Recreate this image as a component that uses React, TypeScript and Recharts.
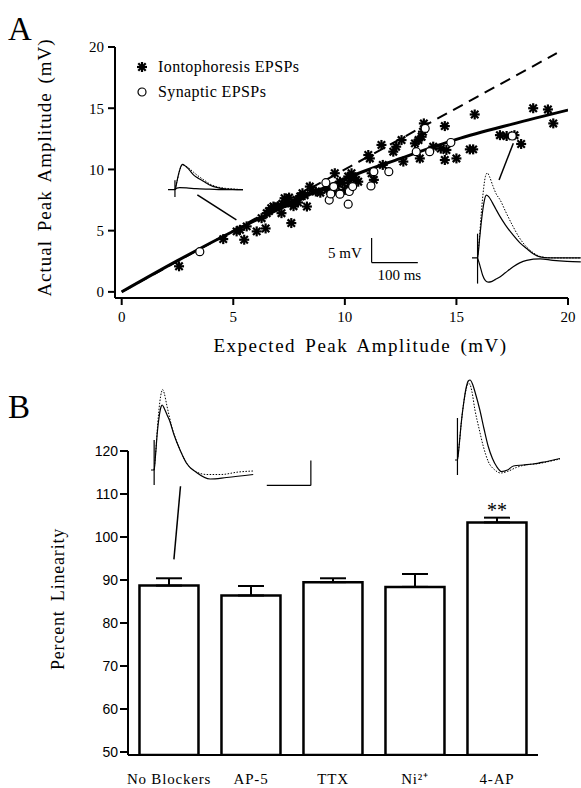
import {
  ComposedChart,
  BarChart,
  LineChart,
  Bar,
  Line,
  Scatter,
  XAxis,
  YAxis,
  ErrorBar,
  ReferenceLine,
  ReferenceDot,
  Legend,
} from 'recharts'

const SERIF = '"Liberation Serif", "Times New Roman", serif'
const SANS = '"Liberation Sans", Arial, sans-serif'

// ---------- panel A: expected vs actual peak amplitude (mV) ----------
const iontoExpected = [
  2.57, 4.55, 5.15, 5.3, 5.49, 5.6, 6.05, 6.27, 6.45, 6.5, 6.6, 6.7, 6.8, 7.0, 7.16, 7.2, 7.3, 7.4, 7.5, 7.6, 7.6,
  7.7, 7.84, 7.9, 8.0, 8.1, 8.2, 8.3, 8.43, 8.5, 8.7, 8.9, 9.2, 9.3, 9.48, 9.55, 9.63, 9.78, 9.9, 10.0, 10.15,
  10.2, 10.3, 10.4, 10.5, 10.6, 11.05, 11.12, 11.2, 11.3, 11.64, 11.7, 12.17, 12.3, 12.54, 12.62, 13.14, 13.3,
  13.36, 13.44, 13.5, 13.54, 13.96, 14.3, 14.48, 14.48, 14.55, 15.0, 15.6, 15.75, 15.82, 16.95, 17.25, 17.6,
  17.9, 18.44, 19.1, 19.34,
]
const iontoActual = [
  2.09, 4.31, 4.94, 5.07, 4.26, 5.35, 4.94, 6.02, 5.18, 6.43, 6.6, 6.84, 6.97, 7.0, 6.43, 7.2, 7.65, 7.3, 7.7, 5.62,
  7.24, 7.0, 7.52, 7.3, 7.79, 8.06, 7.9, 6.97, 8.6, 8.3, 8.2, 8.1, 8.33, 8.5, 8.2, 9.69, 8.6, 9.0, 8.9, 8.33, 9.42,
  8.87, 9.69, 9.3, 9.15, 9.0, 11.18, 10.9, 9.69, 9.15, 12.0, 10.37, 11.45, 11.86, 12.4, 10.64, 12.13, 12.4,
  10.9, 12.67, 13.08, 13.76, 11.86, 11.7, 13.54, 10.77, 11.59, 10.9, 11.64, 11.64, 14.49, 12.8, 12.73, 12.8,
  12.08, 15.0, 14.9, 13.76,
]
const synExpected = [3.5, 9.15, 9.3, 9.37, 9.5, 9.78, 10.15, 10.2, 10.35, 11.17, 11.3, 11.97, 13.2, 13.6, 13.8, 14.75, 17.5]
const synActual = [3.28, 8.92, 7.5, 8.0, 8.6, 7.98, 7.16, 8.2, 8.6, 8.65, 9.82, 9.82, 11.45, 13.35, 11.45, 12.2, 12.73]

const identityX = [0, 19.5]
const fitX = [0, 2.5, 5, 7.5, 10, 12.5, 15, 17.5, 20]
const fitY = [0, 2.55, 4.95, 7.15, 9.25, 10.9, 12.45, 13.7, 14.85]
const ampTicks = [0, 5, 10, 15, 20]

// annotation lines (data units): inset pointers and scale bar
const pointerSmall = [{ x: 3.39, y: 7.92 }, { x: 5.14, y: 5.88 }]
const pointerLarge = [{ x: 16.91, y: 9.14 }, { x: 17.55, y: 12.14 }]
const scaleBarA = { x0: 11.2, x1: 13.27, y0: 2.39, y1: 4.4 }

// ---------- panel B: percent linearity ----------
const conditions = ['No Blockers', 'AP-5', 'TTX', 'Ni²⁺', '4-AP']
const linearity = [88.7, 86.4, 89.5, 88.4, 103.4]
const linearitySem = [1.7, 2.2, 0.9, 3.0, 1.1]
const linTicks = [50, 60, 70, 80, 90, 100, 110, 120]
const edgeTicks = [0, 1, 2, 3, 4, 5]
const pointerB1 = [{ x: 0.512, y: 111.8 }, { x: 0.448, y: 94.8 }]
const pointerB2 = [{ x: 4.354, y: 113.8 }, { x: 4.476, y: 108.4 }]
const scaleBarB = { x0: 1.354, x1: 1.784, y0: 112.0, y1: 117.8 }

// ---------- EPSP traces (t in ms, v in mV) ----------
const a1Actual = [[0, 0], [15, 0], [18, 1.0], [21, 2.4], [25, 3.9], [29, 4.9], [32, 5.1], [36, 4.9], [42, 4.4], [47, 3.9], [55, 3.0], [62, 2.5], [69, 2.1], [80, 1.5], [91, 0.9], [105, 0.45], [119, 0.2], [140, 0.05], [163, 0]]
const a1Expected = [[15, 0], [21, 2.3], [27, 4.4], [31, 5.0], [38, 4.8], [47, 4.2], [58, 3.3], [69, 2.5], [80, 1.8], [91, 1.1], [105, 0.6], [125, 0.25], [145, 0.1], [163, 0]]
const a1Small = [[15, 0], [19, 0.3], [25, 0.4], [40, 0.35], [60, 0.2], [90, 0.1], [130, 0], [163, 0]]
const a1Artifact = [[15, -1.5], [15, 1.9]]

const a2Actual = [[0, 0], [12, 0], [16, 3.5], [21, 8], [26, 11.3], [31, 12.7], [36, 12.4], [44, 11.2], [52, 9.8], [61, 8.3], [72, 6.7], [89, 4.6], [103, 3.1], [118, 1.9], [133, 0.8], [147, 0.2], [165, 0], [235, 0]]
const a2Expected = [[12, 0], [16, 4], [20, 9], [25, 14], [29, 16.5], [33, 17.2], [38, 16.4], [45, 14.6], [52, 13.0], [61, 11.7], [72, 9.5], [89, 6.3], [103, 4.0], [118, 2.2], [133, 1.0], [147, 0.3], [165, 0.05], [190, 0], [235, 0]]
const a2Diff = [[12, 0], [17, -1.5], [23, -3.5], [29, -4.6], [35, -4.9], [42, -4.8], [50, -4.4], [61, -3.8], [72, -3.0], [89, -1.8], [103, -1.0], [118, -0.5], [147, -0.2], [175, -0.5], [205, -0.7], [235, -0.8]]
const a2Artifact = [[12, -5.2], [12, 4.9]]

const bLeftActual = [[0, 0], [9, 0], [13, 3], [18, 7.5], [24, 11], [29, 12.7], [32, 13], [38, 12.3], [46, 11], [54, 9.7], [65, 7.2], [83, 4], [102, 1.3], [130, -0.5], [169, -1.8], [216, -1.5], [292, -0.9]]
const bLeftExpected = [[9, 0], [14, 4], [19, 9], [25, 13.5], [30, 15.6], [33, 16.1], [38, 15.3], [45, 13], [52, 10.8], [60, 8.5], [70, 6.3], [82, 4.2], [95, 2.2], [110, 0.6], [130, -0.4], [160, -0.9], [200, -0.9], [250, -0.4], [292, -0.2]]
const bLeftArtifact = [[9, -3], [9, 6]]

const bRightActual = [[0, 0], [7, 0], [12, 3], [18, 7.5], [25, 11.5], [32, 14.5], [38, 15.8], [43, 16], [50, 15.2], [58, 13.4], [71, 10], [83, 6.2], [95, 2.7], [107, 0.3], [119, -1.3], [133, -2.3], [150, -2.0], [167, -1.2], [195, -1.0], [224, -0.8], [255, -0.4], [281, 0], [300, 0.3]]
const bRightExpected = [[7, 0], [12, 3], [18, 7.5], [25, 11.5], [32, 14.2], [38, 15.3], [42, 15.2], [48, 13.8], [57, 10], [69, 6.2], [81, 2.7], [95, -0.3], [114, -2.0], [130, -2.6], [150, -2.3], [175, -1.5], [200, -1.0], [240, -0.7], [281, -0.1], [300, 0.2]]
const bRightArtifact = [[7, -3], [7, 8.4]]

const toPts = (xs: number[], ys: number[]) => xs.map((x, i) => ({ x, y: ys[i] }))
const toTrace = (arr: number[][]) => arr.map(([t, v]) => ({ t, v }))

const iontoData = toPts(iontoExpected, iontoActual)
const synData = toPts(synExpected, synActual)
const identityData = toPts(identityX, identityX)
const fitData = toPts(fitX, fitY)
const barData = conditions.map((name, i) => ({ name, value: linearity[i], err: [0, linearitySem[i]] }))

const axisStroke = { stroke: '#000', strokeWidth: 2 }

function StarShape(props: any) {
  const { cx, cy } = props
  if (cx == null || cy == null) return null
  const r = 5
  const d = 3.7
  return (
    <g stroke="#000" strokeWidth={2.2}>
      <line x1={cx - r} y1={cy} x2={cx + r} y2={cy} />
      <line x1={cx} y1={cy - r} x2={cx} y2={cy + r} />
      <line x1={cx - d} y1={cy - d} x2={cx + d} y2={cy + d} />
      <line x1={cx - d} y1={cy + d} x2={cx + d} y2={cy - d} />
    </g>
  )
}

function CircleShape(props: any) {
  const { cx, cy } = props
  if (cx == null || cy == null) return null
  return <circle cx={cx} cy={cy} r={4} fill="#fff" stroke="#000" strokeWidth={1.2} />
}

function LegendBox() {
  const row = { display: 'flex', alignItems: 'center', height: 25 }
  const txt = { fontFamily: SERIF, fontSize: 16, letterSpacing: 0.4, color: '#000', marginLeft: 9 }
  return (
    <div>
      <div style={row}>
        <svg width={14} height={14}>
          <StarShape cx={7} cy={7} />
        </svg>
        <span style={txt}>Iontophoresis EPSPs</span>
      </div>
      <div style={row}>
        <svg width={14} height={14}>
          <CircleShape cx={7} cy={7} />
        </svg>
        <span style={txt}>Synaptic EPSPs</span>
      </div>
    </div>
  )
}

type TraceLine = { data: number[][]; dotted?: boolean; straight?: boolean }

function Trace(props: {
  x0: number
  y0: number
  tMax: number
  vMin: number
  vMax: number
  pxMs: number
  pxMv: number
  lines: TraceLine[]
}) {
  const { x0, y0, tMax, vMin, vMax, pxMs, pxMv, lines } = props
  return (
    <div style={{ position: 'absolute', left: x0, top: y0 - vMax * pxMv }}>
      <LineChart width={tMax * pxMs} height={(vMax - vMin) * pxMv} margin={{ top: 0, right: 0, bottom: 0, left: 0 }}>
        <XAxis type="number" dataKey="t" domain={[0, tMax]} hide />
        <YAxis type="number" domain={[vMin, vMax]} hide />
        {lines.map((l, i) => (
          <Line
            key={i}
            data={toTrace(l.data)}
            dataKey="v"
            type={l.straight ? 'linear' : 'monotone'}
            stroke="#000"
            strokeWidth={l.dotted ? 1 : 1.2}
            strokeDasharray={l.dotted ? '1.5 1.5' : undefined}
            dot={false}
            isAnimationActive={false}
          />
        ))}
      </LineChart>
    </div>
  )
}

const panelLetter = (top: number) => ({
  position: 'absolute' as const,
  left: 8,
  top,
  fontFamily: SERIF,
  fontSize: 33,
  lineHeight: 1,
  color: '#000',
})

export default function App() {
  return (
    <div style={{ position: 'absolute', left: 0, top: 0, width: 581, height: 788, background: '#fff', overflow: 'hidden' }}>
      <div style={panelLetter(13)}>A</div>
      <div style={panelLetter(391)}>B</div>

      {/* Panel A */}
      <div style={{ position: 'absolute', left: 0, top: 0 }}>
        <ComposedChart width={581} height={370} margin={{ top: 47, right: 13, left: 35, bottom: 10 }}>
          <XAxis
            type="number"
            dataKey="x"
            domain={[-0.3, 20]}
            ticks={ampTicks}
            allowDataOverflow
            height={62}
            tickSize={7}
            tickMargin={6}
            axisLine={axisStroke}
            tickLine={axisStroke}
            tick={{ fontFamily: SERIF, fontSize: 15, fill: '#000' }}
            label={{
              value: 'Expected Peak Amplitude (mV)',
              position: 'insideBottom',
              offset: 8,
              dx: 19,
              style: { fontFamily: SERIF, fontSize: 19, letterSpacing: 1.5, wordSpacing: 3, fill: '#000' },
            }}
          />
          <YAxis
            type="number"
            dataKey="y"
            domain={[-0.5, 20]}
            ticks={ampTicks}
            allowDataOverflow
            width={80}
            tickSize={7}
            tickMargin={4}
            axisLine={axisStroke}
            tickLine={axisStroke}
            tick={{ fontFamily: SERIF, fontSize: 15, fill: '#000' }}
            label={{
              value: 'Actual Peak Amplitude (mV)',
              angle: -90,
              position: 'insideLeft',
              offset: 9,
              dy: -5,
              style: { textAnchor: 'middle', fontFamily: SERIF, fontSize: 19, letterSpacing: 1, wordSpacing: 3, fill: '#000' },
            }}
          />
          <Legend
            layout="vertical"
            align="center"
            verticalAlign="middle"
            wrapperStyle={{ left: 135, top: 54, width: 220 }}
            content={() => <LegendBox />}
          />
          <Line
            data={identityData}
            dataKey="y"
            stroke="#000"
            strokeWidth={2}
            strokeDasharray="11 7"
            dot={false}
            legendType="none"
            isAnimationActive={false}
          />
          <Line
            data={fitData}
            dataKey="y"
            type="monotone"
            stroke="#000"
            strokeWidth={3}
            dot={false}
            legendType="none"
            isAnimationActive={false}
          />
          <Scatter name="Iontophoresis EPSPs" data={iontoData} shape={StarShape} isAnimationActive={false} />
          <Scatter name="Synaptic EPSPs" data={synData} shape={CircleShape} isAnimationActive={false} />
          <ReferenceLine segment={pointerSmall} stroke="#000" strokeWidth={1.5} />
          <ReferenceLine segment={pointerLarge} stroke="#000" strokeWidth={1.5} />
          <ReferenceLine
            segment={[{ x: scaleBarA.x0, y: scaleBarA.y0 }, { x: scaleBarA.x0, y: scaleBarA.y1 }]}
            stroke="#000"
            strokeWidth={1.2}
          />
          <ReferenceLine
            segment={[{ x: scaleBarA.x0, y: scaleBarA.y0 }, { x: scaleBarA.x1, y: scaleBarA.y0 }]}
            stroke="#000"
            strokeWidth={1.2}
          />
          <ReferenceDot
            x={10.0}
            y={3.18}
            r={1}
            fill="none"
            stroke="none"
            label={{ value: '5 mV', position: 'center', style: { fontFamily: SERIF, fontSize: 15, fill: '#000' } }}
          />
          <ReferenceDot
            x={12.44}
            y={1.39}
            r={1}
            fill="none"
            stroke="none"
            label={{ value: '100 ms', position: 'center', style: { fontFamily: SERIF, fontSize: 15, fill: '#000' } }}
          />
        </ComposedChart>
      </div>

      {/* Panel B */}
      <div style={{ position: 'absolute', left: 0, top: 370 }}>
        <BarChart
          width={581}
          height={418}
          data={barData}
          margin={{ top: 81, right: 43, left: 48, bottom: 0 }}
          barCategoryGap="14%"
        >
          {/* axis line with ticks at the category boundaries (closest to the plot) */}
          <XAxis
            xAxisId={0}
            type="number"
            domain={[0, 5]}
            ticks={edgeTicks}
            tick={false}
            tickSize={8}
            height={8}
            axisLine={axisStroke}
            tickLine={axisStroke}
          />
          <XAxis
            xAxisId="cat"
            dataKey="name"
            height={25}
            tickSize={0}
            tickMargin={10}
            axisLine={false}
            tickLine={false}
            tick={{ fontFamily: SERIF, fontSize: 15, letterSpacing: 0.8, fill: '#000' }}
          />
          <YAxis
            domain={[49.3, 120]}
            ticks={linTicks}
            allowDataOverflow
            width={80}
            tickSize={8}
            tickMargin={2}
            axisLine={axisStroke}
            tickLine={axisStroke}
            tick={{ fontFamily: SANS, fontSize: 14, fill: '#000' }}
            label={{
              value: 'Percent Linearity',
              angle: -90,
              position: 'insideLeft',
              offset: 10,
              dy: -4,
              style: { textAnchor: 'middle', fontFamily: SERIF, fontSize: 18, letterSpacing: 0.8, wordSpacing: 4, fill: '#000' },
            }}
          />
          <ReferenceLine
            segment={[{ x: 0.02, y: 100 }, { x: 4.87, y: 100 }]}
            stroke="#000"
            strokeWidth={2}
            strokeDasharray="2 6"
          />
          <Bar xAxisId="cat" dataKey="value" fill="#fff" stroke="#000" strokeWidth={2.5} isAnimationActive={false}>
            <ErrorBar dataKey="err" width={13} stroke="#000" strokeWidth={2} direction="y" />
          </Bar>
          <ReferenceLine segment={pointerB1} stroke="#000" strokeWidth={1.5} />
          <ReferenceLine segment={pointerB2} stroke="#000" strokeWidth={1.5} />
          <ReferenceLine
            segment={[{ x: scaleBarB.x1, y: scaleBarB.y0 }, { x: scaleBarB.x1, y: scaleBarB.y1 }]}
            stroke="#000"
            strokeWidth={1.2}
          />
          <ReferenceLine
            segment={[{ x: scaleBarB.x0, y: scaleBarB.y0 }, { x: scaleBarB.x1, y: scaleBarB.y0 }]}
            stroke="#000"
            strokeWidth={1.2}
          />
          <ReferenceDot
            xAxisId="cat"
            x="4-AP"
            y={106.3}
            r={1}
            fill="none"
            stroke="none"
            label={{ value: '**', position: 'center', style: { fontFamily: SERIF, fontSize: 20, fill: '#000' } }}
          />
        </BarChart>
      </div>

      {/* EPSP inset traces */}
      <Trace x0={168} y0={190} tMax={163} vMin={-2} vMax={6} pxMs={0.463} pxMv={4.94}
        lines={[{ data: a1Small }, { data: a1Expected, dotted: true }, { data: a1Actual }, { data: a1Artifact, straight: true }]} />
      <Trace x0={472} y0={257.7} tMax={235} vMin={-6} vMax={18} pxMs={0.463} pxMv={4.94}
        lines={[{ data: a2Expected, dotted: true }, { data: a2Actual }, { data: a2Diff }, { data: a2Artifact, straight: true }]} />
      <Trace x0={151} y0={470} tMax={300} vMin={-4} vMax={17} pxMs={0.35} pxMv={5}
        lines={[{ data: bLeftExpected, dotted: true }, { data: bLeftActual }, { data: bLeftArtifact, straight: true }]} />
      <Trace x0={455} y0={460} tMax={300} vMin={-4} vMax={17} pxMs={0.35} pxMv={5}
        lines={[{ data: bRightExpected, dotted: true }, { data: bRightActual }, { data: bRightArtifact, straight: true }]} />
    </div>
  )
}
